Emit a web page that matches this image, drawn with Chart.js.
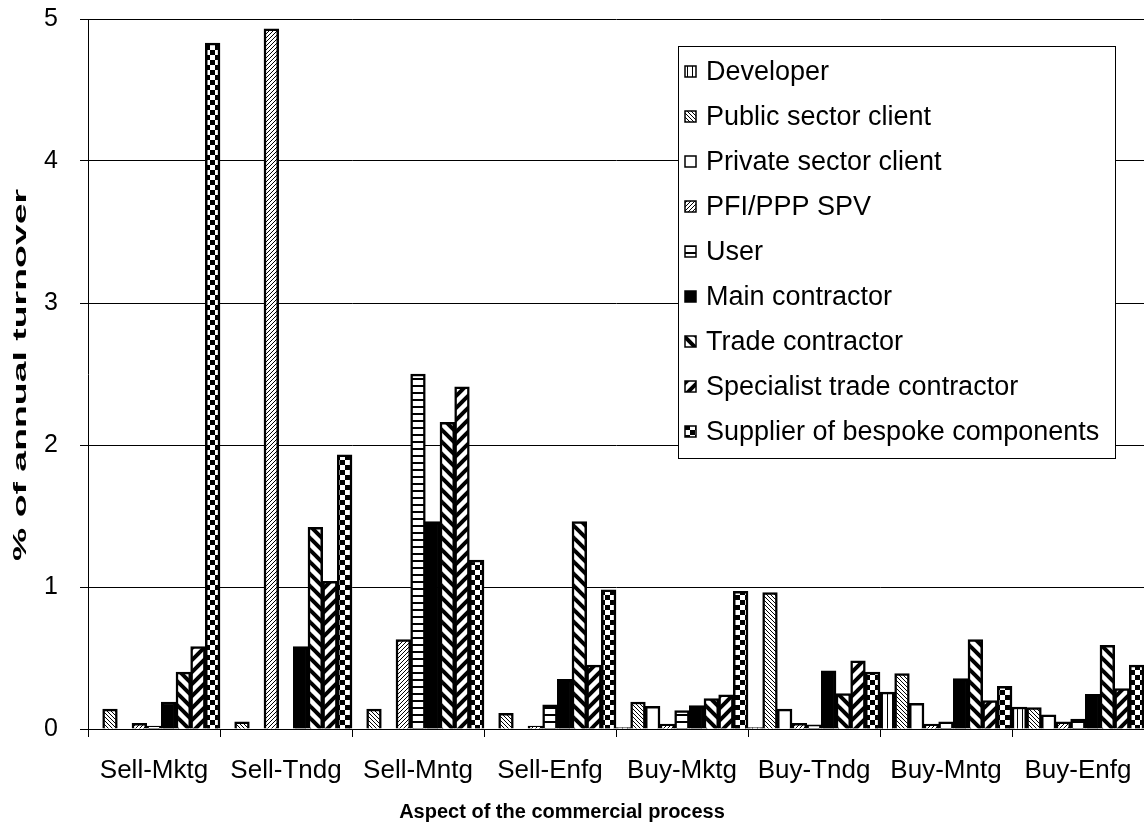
<!DOCTYPE html>
<html>
<head>
<meta charset="utf-8">
<script src="https://cdn.jsdelivr.net/npm/chart.js@4.4.1/dist/chart.umd.min.js"></script>
<style>
    html, body { margin: 0; padding: 0; background: #fff; }
    #wrap { width: 1144px; height: 827px; position: relative; }
</style>
</head>
<body>
<div id="wrap"><canvas id="grafico" width="1144" height="827"></canvas></div>
<script>
// ============================================================
// DADOS
// ============================================================

const categorias = ['Sell-Mktg', 'Sell-Tndg', 'Sell-Mntg', 'Sell-Enfg', 'Buy-Mktg', 'Buy-Tndg', 'Buy-Mntg', 'Buy-Enfg'];
const ticksY = [0, 1, 2, 3, 4, 5];

const developer = [0, 0, 0, 0, 0.01, 0.01, 0.26, 0.155];
const publicClient = [0.14, 0.05, 0.14, 0.11, 0.19, 0.96, 0.39, 0.15];
const privateClient = [0, 0, 0, 0, 0.16, 0.14, 0.18, 0.10];
const pfiSpv = [0.04, 4.93, 0.63, 0.02, 0.035, 0.04, 0.035, 0.05];
const userSerie = [0.02, 0, 2.50, 0.17, 0.13, 0.03, 0.05, 0.07];
const mainContractor = [0.19, 0.58, 1.46, 0.35, 0.165, 0.41, 0.355, 0.245];
const tradeContractor = [0.40, 1.42, 2.16, 1.46, 0.215, 0.25, 0.63, 0.59];
const specialistContractor = [0.58, 1.04, 2.41, 0.45, 0.24, 0.48, 0.20, 0.285];
const supplierBespoke = [4.83, 1.93, 1.19, 0.98, 0.97, 0.40, 0.30, 0.45];

const nomesSeries = [
    'Developer', 'Public sector client', 'Private sector client', 'PFI/PPP SPV', 'User',
    'Main contractor', 'Trade contractor', 'Specialist trade contractor', 'Supplier of bespoke components'
];
const valoresSeries = [
    developer, publicClient, privateClient, pfiSpv, userSerie,
    mainContractor, tradeContractor, specialistContractor, supplierBespoke
];
const tiposPadrao = ['vertical', 'finaDesc', 'branco', 'finaAsc', 'horizontal', 'preto', 'grossaDesc', 'grossaAsc', 'xadrez'];

const FONTE = '"Liberation Sans", Arial, sans-serif';

// ============================================================
// PADRÕES (hachuras preto e branco)
// ============================================================

function criarPadrao(tipo) {
    if (tipo === 'branco') return '#ffffff';
    if (tipo === 'preto') return '#000000';

    const c = document.createElement('canvas');
    const g = c.getContext('2d');
    let s = 4;

    if (tipo === 'vertical') { c.width = 5; c.height = 5; }
    else if (tipo === 'horizontal') { c.width = 7; c.height = 7; }
    else if (tipo === 'finaDesc' || tipo === 'finaAsc') { c.width = 4; c.height = 4; }
    else if (tipo === 'grossaDesc' || tipo === 'grossaAsc') { s = 12; c.width = s; c.height = s; }
    else if (tipo === 'xadrez') { c.width = 10; c.height = 10; }

    g.fillStyle = '#fff';
    g.fillRect(0, 0, c.width, c.height);
    g.fillStyle = '#000';
    g.strokeStyle = '#000';

    if (tipo === 'vertical') {
        g.fillRect(2, 0, 1, 5);
    } else if (tipo === 'horizontal') {
        g.fillRect(0, 0, 7, 2);
    } else if (tipo === 'finaDesc') {
        for (let i = 0; i < 4; i++) g.fillRect(i, i, 1, 1);
    } else if (tipo === 'finaAsc') {
        for (let i = 0; i < 4; i++) g.fillRect(3 - i, i, 1, 1);
    } else if (tipo === 'grossaDesc' || tipo === 'grossaAsc') {
        g.lineWidth = 4;
        for (let k = -1; k <= 1; k++) {
            g.beginPath();
            if (tipo === 'grossaDesc') {
                g.moveTo(k * s - 2, -2);
                g.lineTo(k * s + s + 2, s + 2);
            } else {
                g.moveTo(k * s - 2, s + 2);
                g.lineTo(k * s + s + 2, -2);
            }
            g.stroke();
        }
    } else if (tipo === 'xadrez') {
        g.fillRect(0, 0, 5, 5);
        g.fillRect(5, 5, 5, 5);
    }

    return document.getElementById('grafico').getContext('2d').createPattern(c, 'repeat');
}

const padroes = tiposPadrao.map(criarPadrao);

// ============================================================
// PLUGIN: legenda interna e títulos dos eixos
// ============================================================

const pluginExtras = {
    id: 'extras',
    afterDraw(chart) {
        const ctx = chart.ctx;

        // Legenda
        const box = { x: 678.5, y: 46.5, w: 437, h: 412 };
        ctx.save();
        ctx.fillStyle = '#fff';
        ctx.fillRect(box.x, box.y, box.w, box.h);
        ctx.strokeStyle = '#000';
        ctx.lineWidth = 1;
        ctx.strokeRect(box.x, box.y, box.w, box.h);

        ctx.font = '27px ' + FONTE;
        ctx.textBaseline = 'middle';
        ctx.textAlign = 'left';
        nomesSeries.forEach((nome, i) => {
            const cy = 72 + i * 45;
            ctx.fillStyle = padroes[i];
            ctx.fillRect(685, cy - 6, 11, 11);
            ctx.lineWidth = 1.5;
            ctx.strokeStyle = '#000';
            ctx.strokeRect(685, cy - 6, 11, 11);
            ctx.fillStyle = '#000';
            ctx.fillText(nome, 706, cy + 1);
        });
        ctx.restore();

        // Título do eixo X
        ctx.save();
        ctx.font = 'bold 20px ' + FONTE;
        ctx.fillStyle = '#000';
        ctx.textAlign = 'center';
        ctx.textBaseline = 'middle';
        ctx.fillText('Aspect of the commercial process', 562, 812);
        ctx.restore();

        // Título do eixo Y (estreito e alongado como no original)
        ctx.save();
        const tituloY = '% of annual turnover';
        ctx.font = 'bold 18px ' + FONTE;
        const larg = ctx.measureText(tituloY).width;
        ctx.translate(21, 375);
        ctx.rotate(-Math.PI / 2);
        ctx.scale(372 / larg, 1);
        ctx.fillStyle = '#000';
        ctx.textAlign = 'center';
        ctx.textBaseline = 'middle';
        ctx.fillText(tituloY, 0, 0);
        ctx.restore();
    }
};

// ============================================================
// GRÁFICO
// ============================================================

Chart.defaults.font.family = FONTE;
Chart.defaults.color = '#000';

new Chart(document.getElementById('grafico'), {
    type: 'bar',
    data: {
        labels: categorias,
        datasets: nomesSeries.map((nome, i) => ({
            label: nome,
            data: valoresSeries[i],
            backgroundColor: padroes[i],
            borderColor: '#000',
            borderWidth: 2.5,
            barPercentage: 1,
            categoryPercentage: 1
        }))
    },
    options: {
        responsive: false,
        animation: false,
        layout: { padding: { top: 19, right: 0, left: 0, bottom: 0 } },
        plugins: {
            legend: { display: false },
            tooltip: { enabled: false }
        },
        scales: {
            x: {
                afterFit: s => { s.height = 98; s.paddingLeft = 0; s.paddingRight = 0; },
                grid: { drawOnChartArea: false, color: '#000', tickLength: 8 },
                border: { color: '#000', width: 1 },
                ticks: { font: { size: 26 }, padding: 18, maxRotation: 0, autoSkip: false }
            },
            y: {
                min: 0,
                max: 5,
                afterFit: s => { s.width = 88; s.paddingTop = 0; s.paddingBottom = 0; },
                afterBuildTicks: s => { s.ticks = ticksY.map(v => ({ value: v })); },
                grid: { color: '#000', tickLength: 8 },
                border: { color: '#000', width: 1 },
                ticks: { font: { size: 25 }, padding: 22 }
            }
        }
    },
    plugins: [pluginExtras]
});
</script>
</body>
</html>
